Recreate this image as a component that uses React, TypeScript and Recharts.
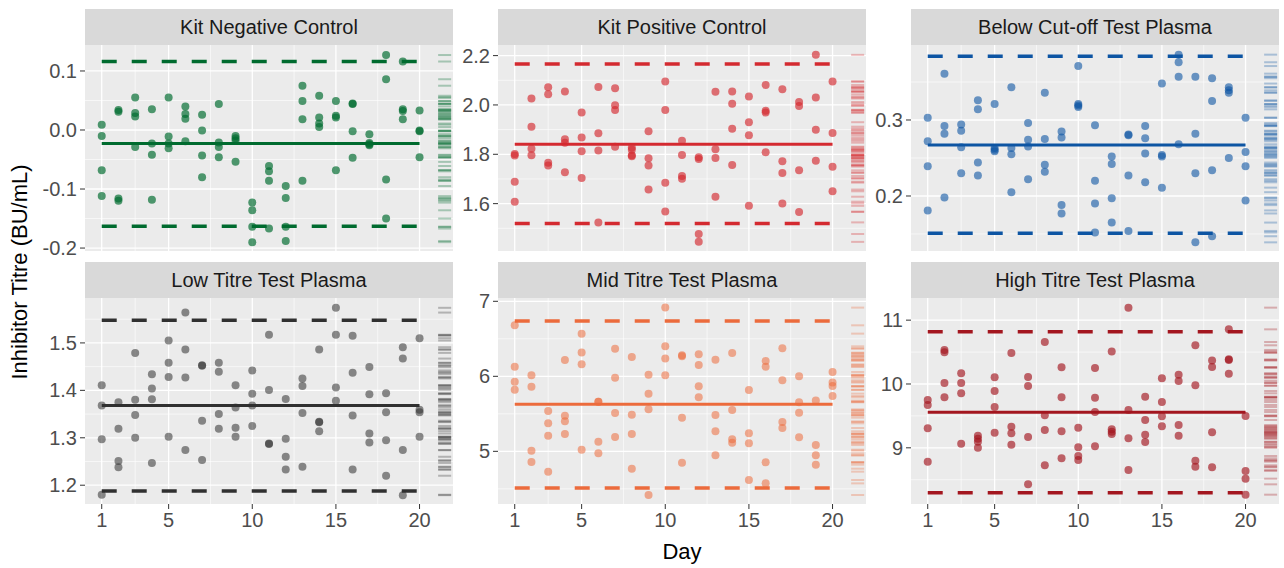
import {
  ComposedChart,
  Scatter,
  XAxis,
  YAxis,
  CartesianGrid,
  ReferenceLine,
} from "recharts";

const days = [1, 2, 3, 4, 5, 6, 7, 8, 9, 10, 11, 12, 13, 14, 15, 16, 17, 18, 19, 20];

// four replicate results per day
const negControl = [
  [0.009, -0.01, -0.068, -0.112], [0.034, 0.031, -0.116, -0.12], [0.055, 0.029, 0.023, -0.029],
  [0.035, -0.023, -0.042, -0.118], [0.055, -0.011, -0.023, -0.031], [0.04, 0.027, 0.019, -0.019],
  [0.026, -0.001, -0.043, -0.08], [0.044, -0.021, -0.029, -0.046], [-0.01, -0.014, -0.018, -0.054],
  [-0.123, -0.136, -0.164, -0.19], [-0.061, -0.07, -0.086, -0.167], [-0.095, -0.115, -0.164, -0.188],
  [0.075, 0.049, 0.018, -0.086], [0.058, 0.021, 0.011, 0.005], [0.049, 0.024, 0.021, -0.068],
  [0.045, 0.044, -0.002, -0.047], [-0.007, -0.022, -0.024, -0.026], [0.127, 0.086, -0.084, -0.15],
  [0.116, 0.035, 0.032, 0.018], [0.033, -0.001, -0.002, -0.046],
];
const posControl = [
  [1.801, 1.795, 1.689, 1.608], [2.026, 1.912, 1.822, 1.796], [2.072, 2.043, 1.766, 1.755],
  [2.055, 1.861, 1.847, 1.727], [1.969, 1.868, 1.812, 1.704], [2.073, 1.885, 1.815, 1.524],
  [2.068, 1.999, 1.98, 1.831], [1.828, 1.818, 1.796, 1.792], [1.893, 1.784, 1.755, 1.657],
  [2.095, 1.98, 1.685, 1.568], [1.855, 1.797, 1.712, 1.701], [1.788, 1.781, 1.477, 1.445],
  [2.053, 1.82, 1.785, 1.628], [2.055, 2.005, 1.904, 1.757], [2.034, 1.93, 1.877, 1.591],
  [2.081, 1.976, 1.969, 1.808], [2.064, 1.772, 1.724, 1.601], [2.012, 1.996, 1.735, 1.566],
  [2.203, 2.03, 1.899, 1.774], [2.095, 1.886, 1.75, 1.65],
];
const belowCutoff = [
  [0.303, 0.272, 0.239, 0.181], [0.361, 0.292, 0.282, 0.198], [0.294, 0.286, 0.264, 0.23],
  [0.326, 0.314, 0.244, 0.227], [0.321, 0.263, 0.261, 0.259], [0.343, 0.263, 0.255, 0.205],
  [0.296, 0.274, 0.265, 0.222], [0.336, 0.275, 0.241, 0.232], [0.285, 0.277, 0.188, 0.177],
  [0.371, 0.321, 0.319, 0.317], [0.293, 0.22, 0.19, 0.152], [0.252, 0.242, 0.197, 0.165],
  [0.281, 0.28, 0.227, 0.154], [0.292, 0.276, 0.256, 0.218], [0.348, 0.254, 0.252, 0.211],
  [0.386, 0.376, 0.357, 0.268], [0.357, 0.282, 0.23, 0.139], [0.355, 0.325, 0.234, 0.147],
  [0.343, 0.339, 0.336, 0.25], [0.303, 0.258, 0.239, 0.194],
];
const lowTitre = [
  [1.411, 1.368, 1.297, 1.18], [1.375, 1.319, 1.251, 1.238], [1.479, 1.38, 1.348, 1.3],
  [1.434, 1.404, 1.381, 1.247], [1.505, 1.458, 1.428, 1.302], [1.564, 1.486, 1.427, 1.274],
  [1.453, 1.452, 1.336, 1.253], [1.458, 1.439, 1.35, 1.319], [1.411, 1.364, 1.321, 1.302],
  [1.442, 1.393, 1.368, 1.325], [1.517, 1.401, 1.288, 1.287], [1.382, 1.298, 1.26, 1.233],
  [1.425, 1.409, 1.352, 1.239], [1.486, 1.334, 1.333, 1.314], [1.574, 1.517, 1.406, 1.378],
  [1.515, 1.437, 1.347, 1.233], [1.449, 1.392, 1.309, 1.29], [1.394, 1.354, 1.295, 1.22],
  [1.491, 1.467, 1.274, 1.179], [1.51, 1.359, 1.354, 1.302],
];
const midTitre = [
  [6.68, 6.129, 5.929, 5.822], [6.013, 5.862, 5.009, 4.858], [5.538, 5.373, 5.209, 4.729],
  [6.218, 5.476, 5.4, 5.231], [6.569, 6.316, 6.16, 5.022], [5.662, 5.66, 5.129, 4.973],
  [6.369, 5.982, 5.511, 5.191], [6.258, 5.489, 5.231, 4.769], [6.022, 5.769, 5.56, 4.418],
  [6.916, 6.4, 6.236, 6.013], [6.28, 6.267, 5.449, 4.849], [6.293, 6.151, 5.867, 5.72],
  [6.222, 5.484, 5.267, 4.947], [6.311, 5.551, 5.16, 5.116], [5.818, 5.24, 5.107, 4.618],
  [6.204, 6.129, 4.853, 4.573], [6.373, 5.947, 5.391, 5.311], [6.0, 5.653, 5.516, 5.187],
  [5.676, 5.084, 4.947, 4.822], [6.058, 5.916, 5.871, 5.738],
];
const highTitre = [
  [9.749, 9.671, 9.305, 8.783], [10.533, 10.496, 10.016, 9.791], [10.167, 10.016, 9.854, 9.065],
  [9.191, 9.144, 9.097, 9.003], [10.104, 9.89, 9.64, 9.238], [10.486, 9.332, 9.227, 9.05],
  [10.11, 9.969, 9.17, 8.428], [10.658, 9.509, 9.279, 8.726], [10.261, 9.791, 9.258, 8.836],
  [9.316, 9.008, 8.872, 8.809], [10.251, 9.786, 9.561, 9.024], [10.507, 9.29, 9.253, 9.217],
  [11.196, 9.593, 9.149, 8.653], [9.802, 9.436, 9.206, 9.091], [10.089, 9.718, 9.493, 9.337],
  [10.146, 10.047, 9.358, 9.191], [10.606, 9.979, 8.799, 8.705], [10.366, 10.266, 9.243, 8.695],
  [10.856, 10.386, 10.376, 10.162], [9.499, 8.637, 8.517, 8.266],
];

const titles = [
  "Kit Negative Control", "Kit Positive Control", "Below Cut-off Test Plasma",
  "Low Titre Test Plasma", "Mid Titre Test Plasma", "High Titre Test Plasma",
];
const means = [-0.023, 1.841, 0.267, 1.368, 5.627, 9.556];
const upperLimits = [0.116, 2.166, 0.384, 1.548, 6.738, 10.82];
const lowerLimits = [-0.163, 1.519, 0.151, 1.188, 4.511, 8.298];
const yDomains: [number, number][] = [
  [-0.205, 0.144], [1.408, 2.243], [0.1276, 0.3987], [1.1604, 1.5947], [4.298, 7.044], [8.12, 11.347],
];
const yTicks = [
  [-0.2, -0.1, 0, 0.1], [1.6, 1.8, 2.0, 2.2], [0.2, 0.3], [1.2, 1.3, 1.4, 1.5], [5, 6, 7], [9, 10, 11],
];
const yMinor = [
  [-0.15, -0.05, 0.05], [1.5, 1.7, 1.9, 2.1], [0.15, 0.25, 0.35], [1.25, 1.35, 1.45, 1.55], [4.5, 5.5, 6.5], [8.5, 9.5, 10.5],
];
const yDecimals = [1, 1, 1, 1, 0, 0];
const xTicks = [1, 5, 10, 15, 20];
const xMinor = [3, 7.5, 12.5, 17.5];
const lineColors = ["#006b2f", "#d42a30", "#0d55a3", "#303030", "#ec6b3c", "#a3161f"];
const pointAlpha = [0.68, 0.65, 0.6, 0.55, 0.55, 0.65];
const series = [negControl, posControl, belowCutoff, lowTitre, midTitre, highTitre];

const FONT = "'Liberation Sans', Arial, Helvetica, sans-serif";
const panelLefts = [85, 498, 911];
const panelTops = [45, 298];
const PANEL_W = 368;
const PANEL_H = 206;
const STRIP_H = 36;
const AXIS_W = 80;
const X_AXIS_H = 36;
const RUG_X = 21.5;

function Panel({ idx }: { idx: number }) {
  const col = idx % 3;
  const row = Math.floor(idx / 3);
  const left = panelLefts[col];
  const top = panelTops[row];
  const color = lineColors[idx];
  const showX = row === 1;
  const points = days.flatMap((d, i) => series[idx][i].map((v) => ({ day: d, v })));
  const rug = points.map((p) => ({ day: RUG_X, v: p.v }));
  const dec = yDecimals[idx];

  return (
    <>
      <div
        style={{
          position: "absolute",
          left,
          top: top - STRIP_H,
          width: PANEL_W,
          height: STRIP_H,
          background: "#d9d9d9",
          color: "#1a1a1a",
          fontFamily: FONT,
          fontSize: 20,
          lineHeight: `${STRIP_H}px`,
          textAlign: "center",
        }}
      >
        {titles[idx]}
      </div>
      <div style={{ position: "absolute", left: left - AXIS_W, top }}>
        <ComposedChart
          width={PANEL_W + AXIS_W}
          height={PANEL_H + (showX ? X_AXIS_H : 0)}
          margin={{ top: 0, right: 0, bottom: 0, left: 0 }}
        >
          <CartesianGrid
            fill="#ebebeb"
            stroke="#ffffff"
            strokeWidth={0.6}
            horizontalValues={yMinor[idx]}
            verticalValues={xMinor}
          />
          <CartesianGrid
            fill="none"
            stroke="#ffffff"
            strokeWidth={1.3}
            horizontalValues={yTicks[idx]}
            verticalValues={xTicks}
          />
          <XAxis
            type="number"
            dataKey="day"
            domain={[0, 22]}
            ticks={xTicks}
            interval={0}
            hide={!showX}
            height={X_AXIS_H}
            axisLine={false}
            tickSize={5}
            tickMargin={4}
            tickLine={{ stroke: "#333333" }}
            tick={{ fill: "#4d4d4d", fontSize: 20, fontFamily: FONT }}
            allowDataOverflow
          />
          <YAxis
            type="number"
            dataKey="v"
            domain={yDomains[idx]}
            ticks={yTicks[idx]}
            interval={0}
            width={AXIS_W}
            axisLine={false}
            tickSize={5}
            tickMargin={3}
            tickLine={{ stroke: "#333333" }}
            tick={{ fill: "#4d4d4d", fontSize: 20, fontFamily: FONT }}
            tickFormatter={(v: number) => v.toFixed(dec)}
            allowDataOverflow
          />
          <ReferenceLine
            segment={[{ x: 1, y: upperLimits[idx] }, { x: 20, y: upperLimits[idx] }]}
            stroke={color}
            strokeWidth={3.5}
            strokeDasharray="15 15"
          />
          <ReferenceLine
            segment={[{ x: 1, y: lowerLimits[idx] }, { x: 20, y: lowerLimits[idx] }]}
            stroke={color}
            strokeWidth={3.5}
            strokeDasharray="15 15"
          />
          <ReferenceLine
            segment={[{ x: 1, y: means[idx] }, { x: 20, y: means[idx] }]}
            stroke={color}
            strokeWidth={3}
          />
          <Scatter
            data={rug}
            isAnimationActive={false}
            shape={(p: any) => (
              <line
                x1={p.cx - 6.5}
                x2={p.cx + 6.5}
                y1={p.cy}
                y2={p.cy}
                stroke={color}
                strokeOpacity={0.3}
                strokeWidth={2}
              />
            )}
          />
          <Scatter
            data={points}
            isAnimationActive={false}
            shape={(p: any) => (
              <circle cx={p.cx} cy={p.cy} r={4} fill={color} fillOpacity={pointAlpha[idx]} />
            )}
          />
        </ComposedChart>
      </div>
    </>
  );
}

export default function App() {
  return (
    <div
      style={{
        position: "absolute",
        left: 0,
        top: 0,
        width: 1284,
        height: 568,
        background: "#ffffff",
        overflow: "hidden",
      }}
    >
      <style>{".recharts-surface, .recharts-wrapper { overflow: visible !important; }"}</style>
      {[0, 1, 2, 3, 4, 5].map((i) => (
        <Panel key={i} idx={i} />
      ))}
      <div
        style={{
          position: "absolute",
          left: 20,
          top: 272,
          transform: "translate(-50%, -50%) rotate(-90deg)",
          whiteSpace: "nowrap",
          fontFamily: FONT,
          fontSize: 22,
          color: "#000",
        }}
      >
        Inhibitor Titre (BU/mL)
      </div>
      <div
        style={{
          position: "absolute",
          left: 682,
          top: 552,
          transform: "translate(-50%, -50%)",
          fontFamily: FONT,
          fontSize: 22,
          color: "#000",
        }}
      >
        Day
      </div>
    </div>
  );
}
